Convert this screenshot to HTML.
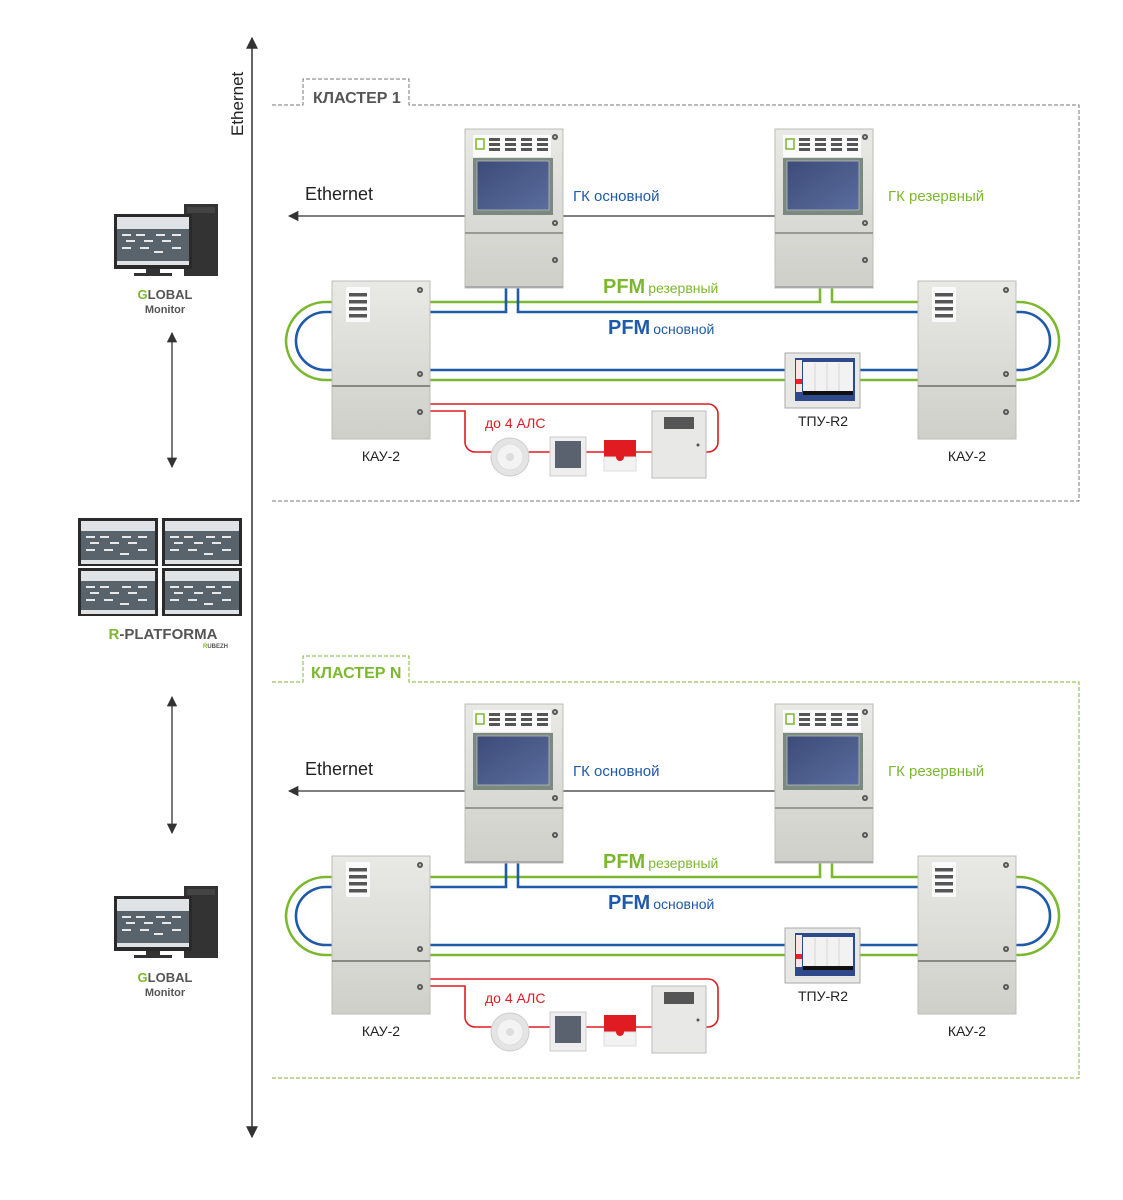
<!DOCTYPE html>
<html><head><meta charset="utf-8"><style>
html,body{margin:0;padding:0;background:#fff;}
svg{display:block;font-family:"Liberation Sans",sans-serif;}
</style></head><body>
<svg width="1123" height="1200" viewBox="0 0 1123 1200" xmlns="http://www.w3.org/2000/svg">
<defs>
<linearGradient id="cab" x1="0" y1="0" x2="0" y2="1"><stop offset="0" stop-color="#e9e9e5"/><stop offset="1" stop-color="#cfcfca"/></linearGradient>
<linearGradient id="scr" x1="0" y1="0" x2="1" y2="1"><stop offset="0" stop-color="#3d4b78"/><stop offset="1" stop-color="#5a6d9e"/></linearGradient>
<marker id="ar" viewBox="0 0 10 10" refX="9" refY="5" markerWidth="8" markerHeight="8" orient="auto-start-reverse"><path d="M0,0L10,5L0,10z" fill="#333"/></marker>
<g id="screw"><circle r="3" fill="#555"/><circle r="1.2" fill="#bbb"/></g>
<g id="gk">
 <rect x="0" y="0" width="98" height="159" fill="url(#cab)" stroke="#bdbdb8"/>
 <rect x="8" y="6" width="78" height="22" fill="#fafafa"/>
 <rect x="11" y="10" width="8" height="10" fill="none" stroke="#7cb82f" stroke-width="1.5"/>
 <g fill="#555"><rect x="24" y="9" width="11" height="3"/><rect x="40" y="9" width="11" height="3"/><rect x="56" y="9" width="11" height="3"/><rect x="72" y="9" width="11" height="3"/>
 <rect x="24" y="14" width="11" height="3"/><rect x="40" y="14" width="11" height="3"/><rect x="56" y="14" width="11" height="3"/><rect x="72" y="14" width="11" height="3"/>
 <rect x="24" y="19" width="11" height="3"/><rect x="40" y="19" width="11" height="3"/><rect x="56" y="19" width="11" height="3"/><rect x="72" y="19" width="11" height="3"/></g>
 <rect x="8" y="29" width="80" height="57" fill="#7b8a80"/>
 <rect x="12" y="32" width="72" height="49" fill="url(#scr)" stroke="#bbb" stroke-width="0.8"/>
 <use href="#screw" x="90" y="8"/><use href="#screw" x="90" y="94"/><use href="#screw" x="90" y="131"/>
 <rect x="0" y="103" width="98" height="2" fill="#9a9a95"/>
 <rect x="0" y="157" width="98" height="2" fill="#aaa"/>
</g>
<g id="kau">
 <rect x="0" y="0" width="98" height="158" fill="url(#cab)" stroke="#bdbdb8"/>
 <rect x="14" y="6" width="24" height="35" fill="#fafafa" rx="1"/>
 <g fill="#555"><rect x="17" y="12" width="18" height="3.5"/><rect x="17" y="19" width="18" height="3.5"/><rect x="17" y="26" width="18" height="3.5"/><rect x="17" y="33" width="18" height="3.5"/></g>
 <use href="#screw" x="88" y="9"/><use href="#screw" x="88" y="93"/><use href="#screw" x="88" y="131"/>
 <rect x="0" y="104" width="98" height="2" fill="#8a8a85"/>
</g>
<g id="tpu">
 <rect x="0" y="0" width="75" height="55" fill="#e8e8e6" stroke="#aaa"/>
 <rect x="10" y="5" width="60" height="43" fill="#2e4a8a"/>
 <rect x="18" y="9" width="50" height="30" fill="#f2f2f2"/>
 <rect x="11" y="7" width="6" height="32" fill="#f7e6e6"/><rect x="11" y="26" width="6" height="5" fill="#e22"/>
 <rect x="18" y="38" width="50" height="4" fill="#111"/>
 <g stroke="#bbb" stroke-width="0.5"><line x1="30" y1="10" x2="30" y2="38"/><line x1="42" y1="10" x2="42" y2="38"/><line x1="54" y1="10" x2="54" y2="38"/></g>
</g>
<g id="als">
 <circle cx="0" cy="0" r="19" fill="#e4e4e4" stroke="#ccc"/><circle cx="0" cy="0" r="13" fill="#f3f3f3" stroke="#ddd"/><circle cx="0" cy="0" r="4" fill="#ddd"/>
 <rect x="40" y="-20" width="36" height="39" fill="#eee" stroke="#ccc"/><rect x="45" y="-16" width="26" height="27" fill="#5a6270"/>
 <rect x="94" y="-17" width="32" height="17" fill="#e01b22"/><rect x="94" y="0" width="32" height="14" fill="#f2f2f2" stroke="#ddd"/><circle cx="110" cy="0" r="4" fill="#e01b22"/>
 <rect x="142" y="-46" width="54" height="67" fill="#e8e8e6" stroke="#bbb"/><rect x="154" y="-40" width="30" height="12" fill="#555"/><circle cx="188" cy="-12" r="1.5" fill="#555"/>
</g>
<g id="cluster">
 <line x1="775" y1="216" x2="289" y2="216" stroke="#333" stroke-width="1.3" marker-end="url(#ar)"/>
 <path d="M332 302 H326 A40 40 0 0 0 286 341 A40 40 0 0 0 326 380 H785 M860 380 H1019 A40 39 0 0 0 1059 341 A40 39 0 0 0 1019 302 H832 V288 M820 288 V302 H430" fill="none" stroke="#7cb82f" stroke-width="2.6"/>
 <path d="M332 312 H326 A30 29 0 0 0 296 341 A30 29 0 0 0 326 370 H785 M860 370 H1020 A30 29 0 0 0 1050 341 A30 29 0 0 0 1020 312 H518 V288 M506 288 V312 H430" fill="none" stroke="#1e5aa8" stroke-width="2.6"/>
 <path d="M430 404 H708 A10 10 0 0 1 718 414 V442 A10 10 0 0 1 708 452 H700 M430 411 H465 V442 A10 10 0 0 0 475 452 H660" fill="none" stroke="#e01b22" stroke-width="1.6"/>
 <use href="#gk" x="465" y="129"/><use href="#gk" x="775" y="129"/>
 <use href="#kau" x="332" y="281"/><use href="#kau" x="918" y="281"/>
 <use href="#tpu" x="785" y="353"/>
 <use href="#als" x="510" y="457"/>
 <text x="305" y="200" font-size="18" fill="#222">Ethernet</text>
 <text x="573" y="201" font-size="15" fill="#1e5aa8" font-family="Liberation Sans Narrow,Liberation Sans,sans-serif">ГК основной</text>
 <text x="888" y="201" font-size="15" fill="#7cb82f" font-family="Liberation Sans Narrow,Liberation Sans,sans-serif">ГК резервный</text>
 <text x="603" y="293" fill="#7cb82f"><tspan font-size="20" font-weight="bold">PFM</tspan><tspan font-size="14" dx="3">резервный</tspan></text>
 <text x="608" y="334" fill="#1e5aa8"><tspan font-size="20" font-weight="bold">PFM</tspan><tspan font-size="14" dx="3">основной</tspan></text>
 <text x="485" y="428" font-size="14" fill="#e01b22">до 4 АЛС</text>
 <text x="381" y="461" font-size="14" fill="#222" text-anchor="middle">КАУ-2</text>
 <text x="967" y="461" font-size="14" fill="#222" text-anchor="middle">КАУ-2</text>
 <text x="823" y="426" font-size="14" fill="#222" text-anchor="middle">ТПУ-R2</text>
</g>
<g id="pc">
 <rect x="70" y="0" width="34" height="72" fill="#333"/><rect x="73" y="3" width="28" height="6" fill="#444"/>
 <rect x="0" y="10" width="78" height="55" fill="#2a2a2a"/>
 <rect x="3" y="13" width="72" height="12" fill="#dfe3e5"/><rect x="3" y="25" width="72" height="32" fill="#58636b"/><rect x="3" y="57" width="72" height="4" fill="#dfe3e5"/>
 <g fill="#e8e8e8"><rect x="8" y="30" width="9" height="2"/><rect x="22" y="30" width="9" height="2"/><rect x="42" y="30" width="9" height="2"/><rect x="58" y="30" width="9" height="2"/><rect x="12" y="36" width="9" height="2"/><rect x="30" y="36" width="9" height="2"/><rect x="48" y="36" width="9" height="2"/><rect x="8" y="43" width="9" height="2"/><rect x="26" y="43" width="9" height="2"/><rect x="40" y="47" width="9" height="2"/><rect x="58" y="43" width="9" height="2"/></g>
 <rect x="32" y="65" width="14" height="5" fill="#333"/><rect x="20" y="69" width="38" height="3" fill="#333"/>
</g>
<g id="mon">
 <rect x="0" y="0" width="80" height="48" fill="#2a2a2a"/>
 <rect x="3" y="3" width="74" height="10" fill="#dfe3e5"/><rect x="3" y="13" width="74" height="29" fill="#58636b"/><rect x="3" y="42" width="74" height="4" fill="#dfe3e5"/>
 <g fill="#e8e8e8"><rect x="8" y="18" width="9" height="2"/><rect x="22" y="18" width="9" height="2"/><rect x="44" y="18" width="9" height="2"/><rect x="60" y="18" width="9" height="2"/><rect x="12" y="24" width="9" height="2"/><rect x="32" y="24" width="9" height="2"/><rect x="50" y="24" width="9" height="2"/><rect x="8" y="31" width="9" height="2"/><rect x="26" y="31" width="9" height="2"/><rect x="42" y="35" width="9" height="2"/><rect x="60" y="31" width="9" height="2"/></g>
</g>
</defs>

<line x1="252" y1="38" x2="252" y2="1137" stroke="#333" stroke-width="1.5" marker-start="url(#ar)" marker-end="url(#ar)"/>
<text transform="translate(243,136) rotate(-90)" font-size="17" fill="#222">Ethernet</text>

<path d="M272 105 H303 V79 H409 V105 H1079 V501 H272" fill="none" stroke="#777" stroke-width="1" stroke-dasharray="4,2"/>
<text x="313" y="103" font-size="16" font-weight="bold" fill="#555" font-family="Liberation Sans Narrow,Liberation Sans,sans-serif">КЛАСТЕР 1</text>
<use href="#cluster"/>

<path d="M272 682 H303 V656 H409 V682 H1079 V1078 H272" fill="none" stroke="#7cb82f" stroke-width="1" stroke-dasharray="4,2"/>
<text x="311" y="678" font-size="16" font-weight="bold" fill="#7cb82f" font-family="Liberation Sans Narrow,Liberation Sans,sans-serif">КЛАСТЕР N</text>
<use href="#cluster" y="575"/>

<use href="#pc" x="114" y="204"/>
<text x="165" y="299" font-size="13" font-weight="bold" fill="#555" text-anchor="middle"><tspan fill="#7cb82f">G</tspan>LOBAL</text>
<text x="165" y="313" font-size="11" font-weight="bold" fill="#555" text-anchor="middle">Monitor</text>
<line x1="172" y1="333" x2="172" y2="467" stroke="#333" stroke-width="1.3" marker-start="url(#ar)" marker-end="url(#ar)"/>

<use href="#mon" x="78" y="518"/><use href="#mon" x="162" y="518"/>
<use href="#mon" x="78" y="568"/><use href="#mon" x="162" y="568"/>
<text x="163" y="639" font-size="15" font-weight="bold" fill="#555" text-anchor="middle"><tspan fill="#7cb82f">R</tspan>-PLATFORMA</text>
<text x="228" y="648" font-size="6" font-weight="bold" fill="#555" text-anchor="end"><tspan fill="#7cb82f">R</tspan>UBEZH</text>
<line x1="172" y1="697" x2="172" y2="833" stroke="#333" stroke-width="1.3" marker-start="url(#ar)" marker-end="url(#ar)"/>

<use href="#pc" x="114" y="886"/>
<text x="165" y="982" font-size="13" font-weight="bold" fill="#555" text-anchor="middle"><tspan fill="#7cb82f">G</tspan>LOBAL</text>
<text x="165" y="996" font-size="11" font-weight="bold" fill="#555" text-anchor="middle">Monitor</text>
</svg>
</body></html>
